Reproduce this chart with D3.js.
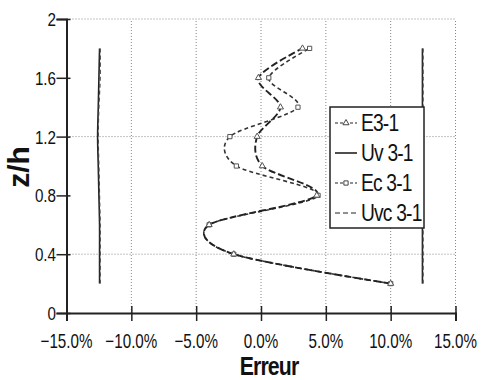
<!DOCTYPE html>
<html><head><meta charset="utf-8">
<script src="https://cdn.jsdelivr.net/npm/d3@7"></script>
<style>body{margin:0;background:#fff}svg{display:block}text{font-family:"Liberation Sans",Arial,sans-serif;fill:#111}</style>
</head><body>
<svg id="c" width="487" height="380"></svg>
<script>
const zLevels = [0.2,0.4,0.6,0.8,1.0,1.2,1.4,1.6,1.8];
const eVals   = [10.0,-2.1,-4.0,4.3,0.1,-0.3,1.5,-0.2,3.2];
const ecVals  = [10.0,-2.1,-4.0,4.4,-1.9,-2.4,2.85,0.6,3.75];
const uvLow   = [-12.45,-12.45,-12.45,-12.5,-12.55,-12.6,-12.55,-12.5,-12.45];
const uvHigh  = [12.45,12.45,12.45,12.45,12.45,12.45,12.45,12.45,12.45];
const uvcLow  = [-12.4,-12.4,-12.4,-12.45,-12.5,-12.55,-12.5,-12.4,-12.4];
const uvcHigh = [12.5,12.5,12.5,12.5,12.5,12.5,12.5,12.5,12.5];
const xTicks = [-15,-10,-5,0,5,10,15];
const yTicks = [0,0.4,0.8,1.2,1.6,2];
const yGrid = [0.4,1.2,2];
const legendNames = ["E3-1","Uv 3-1","Ec 3-1","Uvc 3-1"];

const svg = d3.select("#c");
const x = d3.scaleLinear().domain([-15,15]).range([66.5,455.5]);
const y = d3.scaleLinear().domain([0,2]).range([313,19]);
const ink = "#222";

// grid
svg.append("g").selectAll("line").data(xTicks.slice(1)).join("line")
  .attr("x1",d=>x(d)).attr("x2",d=>x(d)).attr("y1",y(0)).attr("y2",y(2))
  .attr("stroke","#888").attr("stroke-width",1).attr("stroke-dasharray","1,2");
svg.append("g").selectAll("line").data(yGrid).join("line")
  .attr("x1",x(-15)).attr("x2",x(15)).attr("y1",d=>y(d)).attr("y2",d=>y(d))
  .attr("stroke","#888").attr("stroke-width",1).attr("stroke-dasharray","1,2");

// axes
const xAxis = svg.append("g").attr("transform",`translate(0,${y(0)})`)
  .call(d3.axisBottom(x).tickValues(xTicks).tickSize(8).tickFormat(""));
xAxis.select(".domain").attr("stroke",ink).attr("stroke-width",2);
xAxis.selectAll(".tick line").attr("stroke",ink).attr("stroke-width",1.5).attr("y1",-7);
const yAxis = svg.append("g").attr("transform",`translate(${x(-15)},0)`)
  .call(d3.axisLeft(y).tickValues(yTicks).tickSize(10).tickFormat(""));
yAxis.select(".domain").attr("stroke",ink).attr("stroke-width",2);
yAxis.selectAll(".tick line").attr("stroke",ink).attr("stroke-width",1.5).attr("x1",-10).attr("x2",4);

// tick labels (compressed)
svg.append("g").selectAll("g").data(xTicks).join("g")
  .attr("transform",d=>`translate(${x(d)},347.5) scale(0.76,1)`)
  .append("text").attr("text-anchor","middle").attr("font-size",20)
  .text(d=>d3.format(".1f")(d)+"%");
svg.append("g").selectAll("g").data(yTicks).join("g")
  .attr("transform",d=>`translate(56,${y(d)+7}) scale(0.8,1)`)
  .append("text").attr("text-anchor","end").attr("font-size",19)
  .text(d=>d3.format("~g")(d));

// titles
svg.append("g").attr("transform","translate(269,374.5) scale(0.85,1)")
  .append("text").attr("text-anchor","middle").attr("font-size",25).attr("font-weight","bold")
  .attr("letter-spacing",-1).text("Erreur");
svg.append("text").attr("transform","translate(29,167) rotate(-90)")
  .attr("text-anchor","middle").attr("font-size",30).attr("font-weight","bold").text("z/h");

// series
const toPts = vals => vals.map((v,i)=>[x(v),y(zLevels[i])]);
const smooth = d3.line().curve(d3.curveCardinal.tension(0.1));
const straight = d3.line().curve(d3.curveCatmullRom);

[uvLow,uvHigh].forEach(v=>svg.append("path").attr("d",straight(toPts(v)))
  .attr("fill","none").attr("stroke",ink).attr("stroke-width",1.6));
[uvcLow,uvcHigh].forEach(v=>svg.append("path").attr("d",straight(toPts(v)))
  .attr("fill","none").attr("stroke","#444").attr("stroke-width",1.2).attr("stroke-dasharray","4,3"));

svg.append("path").attr("d",smooth(toPts(ecVals))).attr("fill","none")
  .attr("stroke","#333").attr("stroke-width",1.6).attr("stroke-dasharray","4,3");
svg.append("path").attr("d",smooth(toPts(eVals))).attr("fill","none")
  .attr("stroke","#222").attr("stroke-width",1.9).attr("stroke-dasharray","7,3");

const tri = d3.symbol().type(d3.symbolTriangle).size(16);
const sq = d3.symbol().type(d3.symbolSquare).size(18);
svg.append("g").selectAll("path").data(toPts(ecVals)).join("path")
  .attr("d",sq).attr("transform",d=>`translate(${d[0]},${d[1]})`)
  .attr("fill","#fff").attr("stroke","#555").attr("stroke-width",1);
svg.append("g").selectAll("path").data(toPts(eVals)).join("path")
  .attr("d",tri).attr("transform",d=>`translate(${d[0]},${d[1]})`)
  .attr("fill","#fff").attr("stroke","#555").attr("stroke-width",1);

// legend
const lg = svg.append("g");
lg.append("rect").attr("x",330).attr("y",107).attr("width",94).attr("height",121)
  .attr("fill","#fff").attr("stroke",ink).attr("stroke-width",1.5);
const rows = lg.selectAll("g").data(legendNames).join("g")
  .attr("transform",(d,i)=>`translate(0,${123+i*30})`);
rows.append("line").attr("x1",335).attr("x2",357).attr("y1",0).attr("y2",0)
  .attr("stroke",ink).attr("stroke-width",(d,i)=>i===1?1.6:1.2)
  .attr("stroke-dasharray",(d,i)=>i===1?null:(i===3?"5,3":"3,2"));
rows.filter((d,i)=>i===0).append("path").attr("d",tri).attr("transform","translate(346,0)")
  .attr("fill","#fff").attr("stroke","#444");
rows.filter((d,i)=>i===2).append("path").attr("d",sq).attr("transform","translate(346,0)")
  .attr("fill","#fff").attr("stroke","#444");
rows.append("g").attr("transform","translate(361,8) scale(0.8,1)")
  .append("text").attr("font-size",24).attr("letter-spacing",-1).text(d=>d);
</script>
</body></html>
